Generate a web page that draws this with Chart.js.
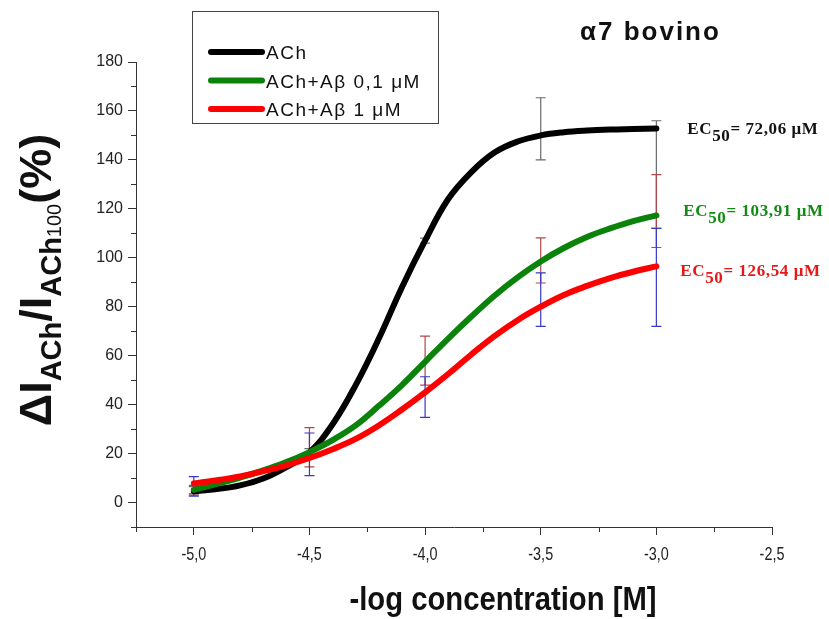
<!DOCTYPE html>
<html>
<head>
<meta charset="utf-8">
<title>α7 bovino</title>
<script src="https://cdn.jsdelivr.net/npm/chart.js@4.4.1/dist/chart.umd.min.js"></script>
<style>
  html, body { margin: 0; padding: 0; background: #fff; }
  #wrap { width: 829px; height: 619px; position: relative; }
</style>
</head>
<body>
<div id="wrap"><canvas id="chart" width="829" height="619"></canvas></div>
<script>
// Fitted dose-response curves, sampled along -log[ACh]
const xFit = [-5.0, -4.9, -4.8, -4.7, -4.6, -4.5, -4.4, -4.3, -4.2, -4.1, -4.0,
              -3.9, -3.8, -3.7, -3.6, -3.5, -3.4, -3.3, -3.2, -3.1, -3.0];
const achFit = [4.6, 5.5, 7.0, 9.8, 14.5, 20.5, 32, 48, 67, 88, 107,
                124, 135, 143, 147.5, 150, 151.3, 152, 152.4, 152.6, 152.8];
const abLowFit = [5.2, 7.6, 10.2, 13.1, 16.5, 20.6, 25.5, 31.5, 39.5, 48, 57.5,
                  67, 76, 84.5, 92, 98.5, 104, 108.5, 112, 115, 117.3];
const abHighFit = [7.8, 9.1, 10.7, 12.8, 15.2, 18.2, 21.8, 26, 31.5, 38, 45,
                   52.5, 60.5, 68, 74.5, 80, 84.8, 88.5, 91.7, 94.3, 96.5];

// Measured points (mean ± SD), only the error bars are drawn
const xData = [-5.0, -4.5, -4.0, -3.5, -3.0];
const achMean = [5, 20, 107, 152.7, 130.1];
const achSd = [1.5, 2, 1, 12.7, 25.9];
const abLowMean = [5, 22.6, 58, 98.9, 123];
const abLowSd = [2, 8, 10, 9.2, 11];
const abHighMean = [6.6, 19.7, 43.1, 82.9, 92];
const abHighSd = [4, 8.7, 8.3, 10.9, 20];

const seriesLabels = ['ACh', 'ACh+Aβ 0,1 μM', 'ACh+Aβ 1 μM'];
const ec50Values = ['72,06 μM', '103,91 μM', '126,54 μM'];

const xTicks = [-5.0, -4.5, -4.0, -3.5, -3.0, -2.5];
const xMinorTicks = [-5.25, -4.75, -4.25, -3.75, -3.25, -2.75];
const yTicks = [0, 20, 40, 60, 80, 100, 120, 140, 160, 180];
const yMinorTicks = [-10, 10, 30, 50, 70, 90, 110, 130, 150, 170];

const SANS = "'Liberation Sans', Arial, sans-serif";
const SERIF = "'Liberation Serif', 'Times New Roman', serif";

const lineColors = ['#000000', '#0b830b', '#ff0000'];
const barColors = ['#6a6a6a', '#b04848', '#3838c8'];
const ec50Colors = ['#111111', '#138a13', '#e81818'];

function toPoints(xs, ys) {
  return xs.map((x, i) => ({ x, y: ys[i] }));
}

const fits = [achFit, abLowFit, abHighFit];
const errorSets = [
  { mean: achMean, sd: achSd },
  { mean: abLowMean, sd: abLowSd },
  { mean: abHighMean, sd: abHighSd }
];

// Error bars go under the fitted curves
const errorBarPlugin = {
  id: 'errorBars',
  beforeDatasetsDraw(chart) {
    const { ctx, scales: { x, y } } = chart;
    ctx.save();
    ctx.lineWidth = 1.2;
    errorSets.forEach((set, s) => {
      ctx.strokeStyle = barColors[s];
      xData.forEach((xv, i) => {
        const px = x.getPixelForValue(xv);
        const top = y.getPixelForValue(set.mean[i] + set.sd[i]);
        const bot = y.getPixelForValue(set.mean[i] - set.sd[i]);
        ctx.beginPath();
        ctx.moveTo(px, top); ctx.lineTo(px, bot);
        ctx.moveTo(px - 5, top); ctx.lineTo(px + 5, top);
        ctx.moveTo(px - 5, bot); ctx.lineTo(px + 5, bot);
        ctx.stroke();
      });
    });
    ctx.restore();
  }
};

// Minor tick marks and the condensed x tick labels
const axisExtrasPlugin = {
  id: 'axisExtras',
  afterDraw(chart) {
    const { ctx, scales: { x, y }, chartArea } = chart;
    ctx.save();
    ctx.strokeStyle = '#333';
    ctx.lineWidth = 1;
    ctx.beginPath();
    xMinorTicks.forEach(v => {
      const px = Math.round(x.getPixelForValue(v)) + 0.5;
      ctx.moveTo(px, chartArea.bottom);
      ctx.lineTo(px, chartArea.bottom + 5);
    });
    yMinorTicks.forEach(v => {
      const py = Math.round(y.getPixelForValue(v)) + 0.5;
      ctx.moveTo(chartArea.left, py);
      ctx.lineTo(chartArea.left - 5, py);
    });
    ctx.stroke();

    ctx.fillStyle = '#222';
    ctx.font = '18px ' + SANS;
    ctx.textAlign = 'center';
    ctx.textBaseline = 'alphabetic';
    xTicks.forEach(v => {
      const px = x.getPixelForValue(v);
      ctx.save();
      ctx.translate(px, chartArea.bottom + 33);
      ctx.scale(0.8, 1);
      ctx.fillText(v.toFixed(1).replace('.', ','), 0, 0);
      ctx.restore();
    });
    ctx.restore();
  }
};

// Draws a run of text pieces with their own fonts and baseline shifts
function drawRuns(ctx, runs, x, y) {
  let cx = x;
  runs.forEach(r => {
    ctx.font = r.font;
    ctx.fillText(r.text, cx, y + (r.dy || 0));
    cx += ctx.measureText(r.text).width;
  });
  return cx;
}

function runsWidth(ctx, runs) {
  let w = 0;
  runs.forEach(r => {
    ctx.font = r.font;
    w += ctx.measureText(r.text).width;
  });
  return w;
}

const annotationPlugin = {
  id: 'annotations',
  afterDraw(chart) {
    const { ctx, scales: { x, y } } = chart;
    ctx.save();
    ctx.textAlign = 'left';
    ctx.textBaseline = 'alphabetic';

    // Legend box
    ctx.strokeStyle = '#444';
    ctx.lineWidth = 1;
    ctx.strokeRect(192.5, 11.5, 246, 112);
    seriesLabels.forEach((label, i) => {
      const ly = 52 + i * 28.5;
      ctx.strokeStyle = lineColors[i];
      ctx.lineWidth = 6;
      ctx.lineCap = 'round';
      ctx.beginPath();
      ctx.moveTo(211, ly);
      ctx.lineTo(262, ly);
      ctx.stroke();
      ctx.fillStyle = '#111';
      ctx.font = '19px ' + SANS;
      ctx.letterSpacing = '1.5px';
      ctx.fillText(label, 266, ly + 7);
      ctx.letterSpacing = '0px';
    });

    // Panel title
    ctx.fillStyle = '#111';
    ctx.font = 'bold 26px ' + SANS;
    ctx.letterSpacing = '2px';
    ctx.fillText('α7 bovino', 580, 40);
    ctx.letterSpacing = '0px';

    // EC50 values next to the curve ends
    const xEnd = x.getPixelForValue(xData[xData.length - 1]);
    const dx = [31, 27, 24];
    const dy = [5, 1, 10];
    ctx.letterSpacing = '0.6px';
    fits.forEach((fit, i) => {
      const py = y.getPixelForValue(fit[fit.length - 1]) + dy[i];
      ctx.fillStyle = ec50Colors[i];
      drawRuns(ctx, [
        { text: 'EC', font: 'bold 17px ' + SERIF },
        { text: '50', font: 'bold 17px ' + SERIF, dy: 7 },
        { text: '= ' + ec50Values[i], font: 'bold 17px ' + SERIF }
      ], xEnd + dx[i], py);
    });
    ctx.letterSpacing = '0px';

    // X axis title, condensed
    ctx.fillStyle = '#111';
    ctx.save();
    ctx.font = 'bold 34px ' + SANS;
    ctx.textAlign = 'center';
    ctx.translate(503, 610);
    ctx.scale(0.86, 1);
    ctx.fillText('-log concentration [M]', 0, 0);
    ctx.restore();

    // Y axis title, rotated, with subscripts
    const big = 'bold 45px ' + SANS;
    const sub = 'bold 29px ' + SANS;
    const sub2 = '20px ' + SANS;
    const runs = [
      { text: 'ΔI', font: big },
      { text: 'ACh', font: sub, dy: 10 },
      { text: '/I', font: big },
      { text: 'ACh', font: sub, dy: 10 },
      { text: '100', font: sub2, dy: 10 },
      { text: '(%)', font: big }
    ];
    const w = runsWidth(ctx, runs);
    ctx.translate(51, 280);
    ctx.rotate(-Math.PI / 2);
    ctx.fillStyle = '#111';
    drawRuns(ctx, runs, -w / 2, 0);
    ctx.restore();
  }
};

const datasets = fits.map((fit, i) => ({
  label: seriesLabels[i],
  data: toPoints(xFit, fit),
  borderColor: lineColors[i],
  backgroundColor: lineColors[i],
  borderWidth: 6,
  borderCapStyle: 'round',
  pointRadius: 0,
  tension: 0.4,
  fill: false
})).reverse();

new Chart(document.getElementById('chart'), {
  type: 'line',
  data: { datasets },
  options: {
    responsive: false,
    animation: false,
    layout: { padding: { left: 0, top: 62, right: 57, bottom: 0 } },
    plugins: {
      legend: { display: false },
      tooltip: { enabled: false }
    },
    scales: {
      x: {
        type: 'linear',
        min: -5.25,
        max: -2.5,
        afterBuildTicks: scale => { scale.ticks = xTicks.map(v => ({ value: v })); },
        afterFit: scale => { scale.height = 92; },
        border: { display: true, color: '#333', width: 1 },
        grid: { drawOnChartArea: false, drawTicks: true, tickLength: 8, tickColor: '#333' },
        ticks: { display: false }
      },
      y: {
        type: 'linear',
        min: -10,
        max: 180,
        afterBuildTicks: scale => { scale.ticks = yTicks.map(v => ({ value: v })); },
        afterFit: scale => { scale.width = 136; },
        border: { display: true, color: '#333', width: 1 },
        grid: { drawOnChartArea: false, drawTicks: true, tickLength: 8, tickColor: '#333' },
        ticks: {
          color: '#222',
          padding: 5,
          font: { family: SANS, size: 16 },
          callback: v => String(v)
        }
      }
    }
  },
  plugins: [errorBarPlugin, axisExtrasPlugin, annotationPlugin]
});
</script>
</body>
</html>
